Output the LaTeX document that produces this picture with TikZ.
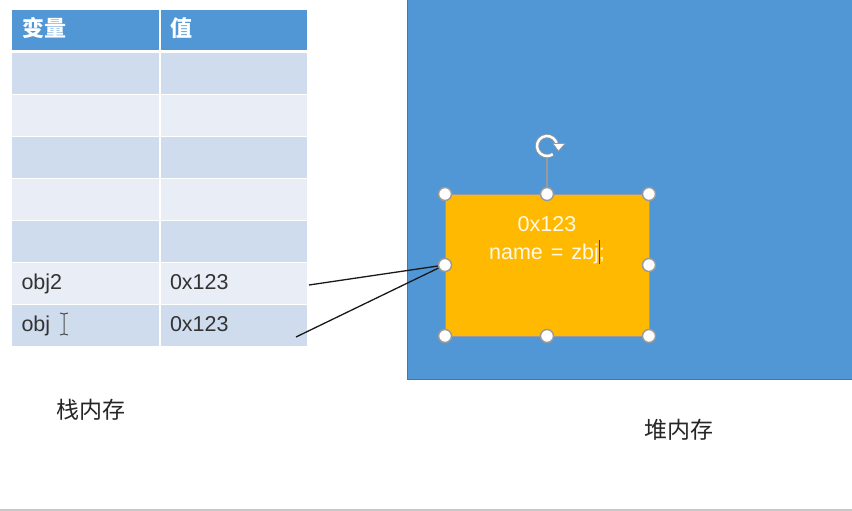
\documentclass[tikz,border=0pt]{standalone}
\usepackage{fontspec}
\setmainfont{Liberation Sans}
\newfontfamily\cjk{Noto Sans CJK SC}
\definecolor{hdr}{HTML}{5197D5}
\definecolor{rowa}{HTML}{CEDCED}
\definecolor{rowb}{HTML}{E8EDF6}
\definecolor{heap}{HTML}{5197D5}
\definecolor{heapedge}{HTML}{3F78AE}
\definecolor{obja}{HTML}{FFB900}
\definecolor{handleedge}{HTML}{9A9A9A}
\definecolor{cellink}{HTML}{333333}
\tikzset{
  x=1pt,y=-1pt,
  cell/.style={inner sep=0pt,outer sep=0pt,minimum width=147pt,anchor=north west,text width=135pt,align=left},
  hcell/.style={cell,fill=hdr,minimum height=40pt,text=white,font=\cjk\bfseries\fontsize{22}{26}\selectfont,text depth=9pt,text height=23pt},
  rowA/.style={cell,fill=rowa,minimum height=41pt,text=cellink},
  rowB/.style={cell,fill=rowb,minimum height=41pt,text=cellink},
  txt/.style={font=\fontsize{21.5}{26}\selectfont,text height=23pt,text depth=12pt},
  handle/.style={circle,draw=handleedge,line width=1.5pt,fill=white,minimum size=13pt,inner sep=0pt},
  conn/.style={black!90,line width=1.3pt},
  lbl/.style={inner sep=0pt,text=black!85,font=\cjk\fontsize{23}{27}\selectfont},
}
\begin{document}
\begin{tikzpicture}
\useasboundingbox (0,0) rectangle (852,511);
\fill[white] (0,0) rectangle (852,511);
% bottom rule
\fill[black!22] (0,509) rectangle (852,511);
% table
\node[hcell] (h1) at (12,10) {\hspace*{4.5pt}变量};
\node[hcell,minimum width=146pt] (h2) at (161,10) {\hspace*{3.5pt}值};
\foreach \y/\s/\n in {53/rowA/1,95/rowB/2,137/rowA/3,179/rowB/4,221/rowA/5}{
  \node[\s] (l\n) at (12,\y) {};
  \node[\s,minimum width=146pt] (r\n) at (161,\y) {};
}
\node[rowB,txt] (l6) at (12,263) {\hspace*{3.5pt}obj2};
\node[rowB,txt,minimum width=146pt] (r6) at (161,263) {\hspace*{3.5pt}0x123};
\node[rowA,txt] (l7) at (12,305) {\hspace*{3.5pt}obj};
\node[rowA,txt,minimum width=146pt] (r7) at (161,305) {\hspace*{3.5pt}0x123};
% I-beam mouse cursor
\draw[black!70,line width=1pt] (60,313) -- (64,314) -- (68,313) (64,314) -- (64,334) (60,335) -- (64,334) -- (68,335);
% heap
\node[draw=heapedge,line width=1pt,fill=heap,inner sep=0pt,outer sep=0pt,minimum width=446pt,minimum height=380pt,anchor=north west] (heap) at (407,-1) {};
% object
\node[draw=handleedge,line width=1pt,fill=obja,inner sep=0pt,outer sep=0pt,minimum width=204pt,minimum height=142pt,anchor=north west] (obj) at (445,194) {};
\node[inner sep=0pt,text=white!90!obja,font=\fontsize{21.5}{28.5}\selectfont,align=center,anchor=north] (objtext) at (547,216) {0x123\\name\hspace{8pt}=\hspace{8pt}zbj;};
\draw[black!75,line width=1.4pt] (599.5,240) -- (599.5,264);
% rotation handle
\coordinate (rot) at (547,146);
\draw[handleedge,line width=1.2pt] (obj.north) -- (rot);
\fill[heap] (rot) circle[radius=9pt];
\draw[handleedge,line width=4pt] ([shift={(5:10pt)}]rot) arc[start angle=5,end angle=305,radius=10pt];
\draw[white,line width=2.4pt] ([shift={(5:10pt)}]rot) arc[start angle=5,end angle=305,radius=10pt];
\fill[white,draw=handleedge,line width=.6pt] (553,143.5) -- (565,143.5) -- (558.5,151) -- cycle;
% handles
\node[handle] (nw) at (obj.north west) {};
\node[handle] (n) at (obj.north) {};
\node[handle] (ne) at (obj.north east) {};
\node[handle] (w) at (obj.west) {};
\node[handle] (e) at (obj.east) {};
\node[handle] (sw) at (obj.south west) {};
\node[handle] (s) at (obj.south) {};
\node[handle] (se) at (obj.south east) {};
% connectors
\coordinate (c1) at (309,285);
\coordinate (c2) at (296,337);
\draw[conn] (c1) -- (w.188);
\draw[conn] (c2) -- (w.205);
% labels
\node[lbl] (stack) at (91,410) {栈内存};
\node[lbl] (heaplbl) at (679,430) {堆内存};
\end{tikzpicture}
\end{document}
